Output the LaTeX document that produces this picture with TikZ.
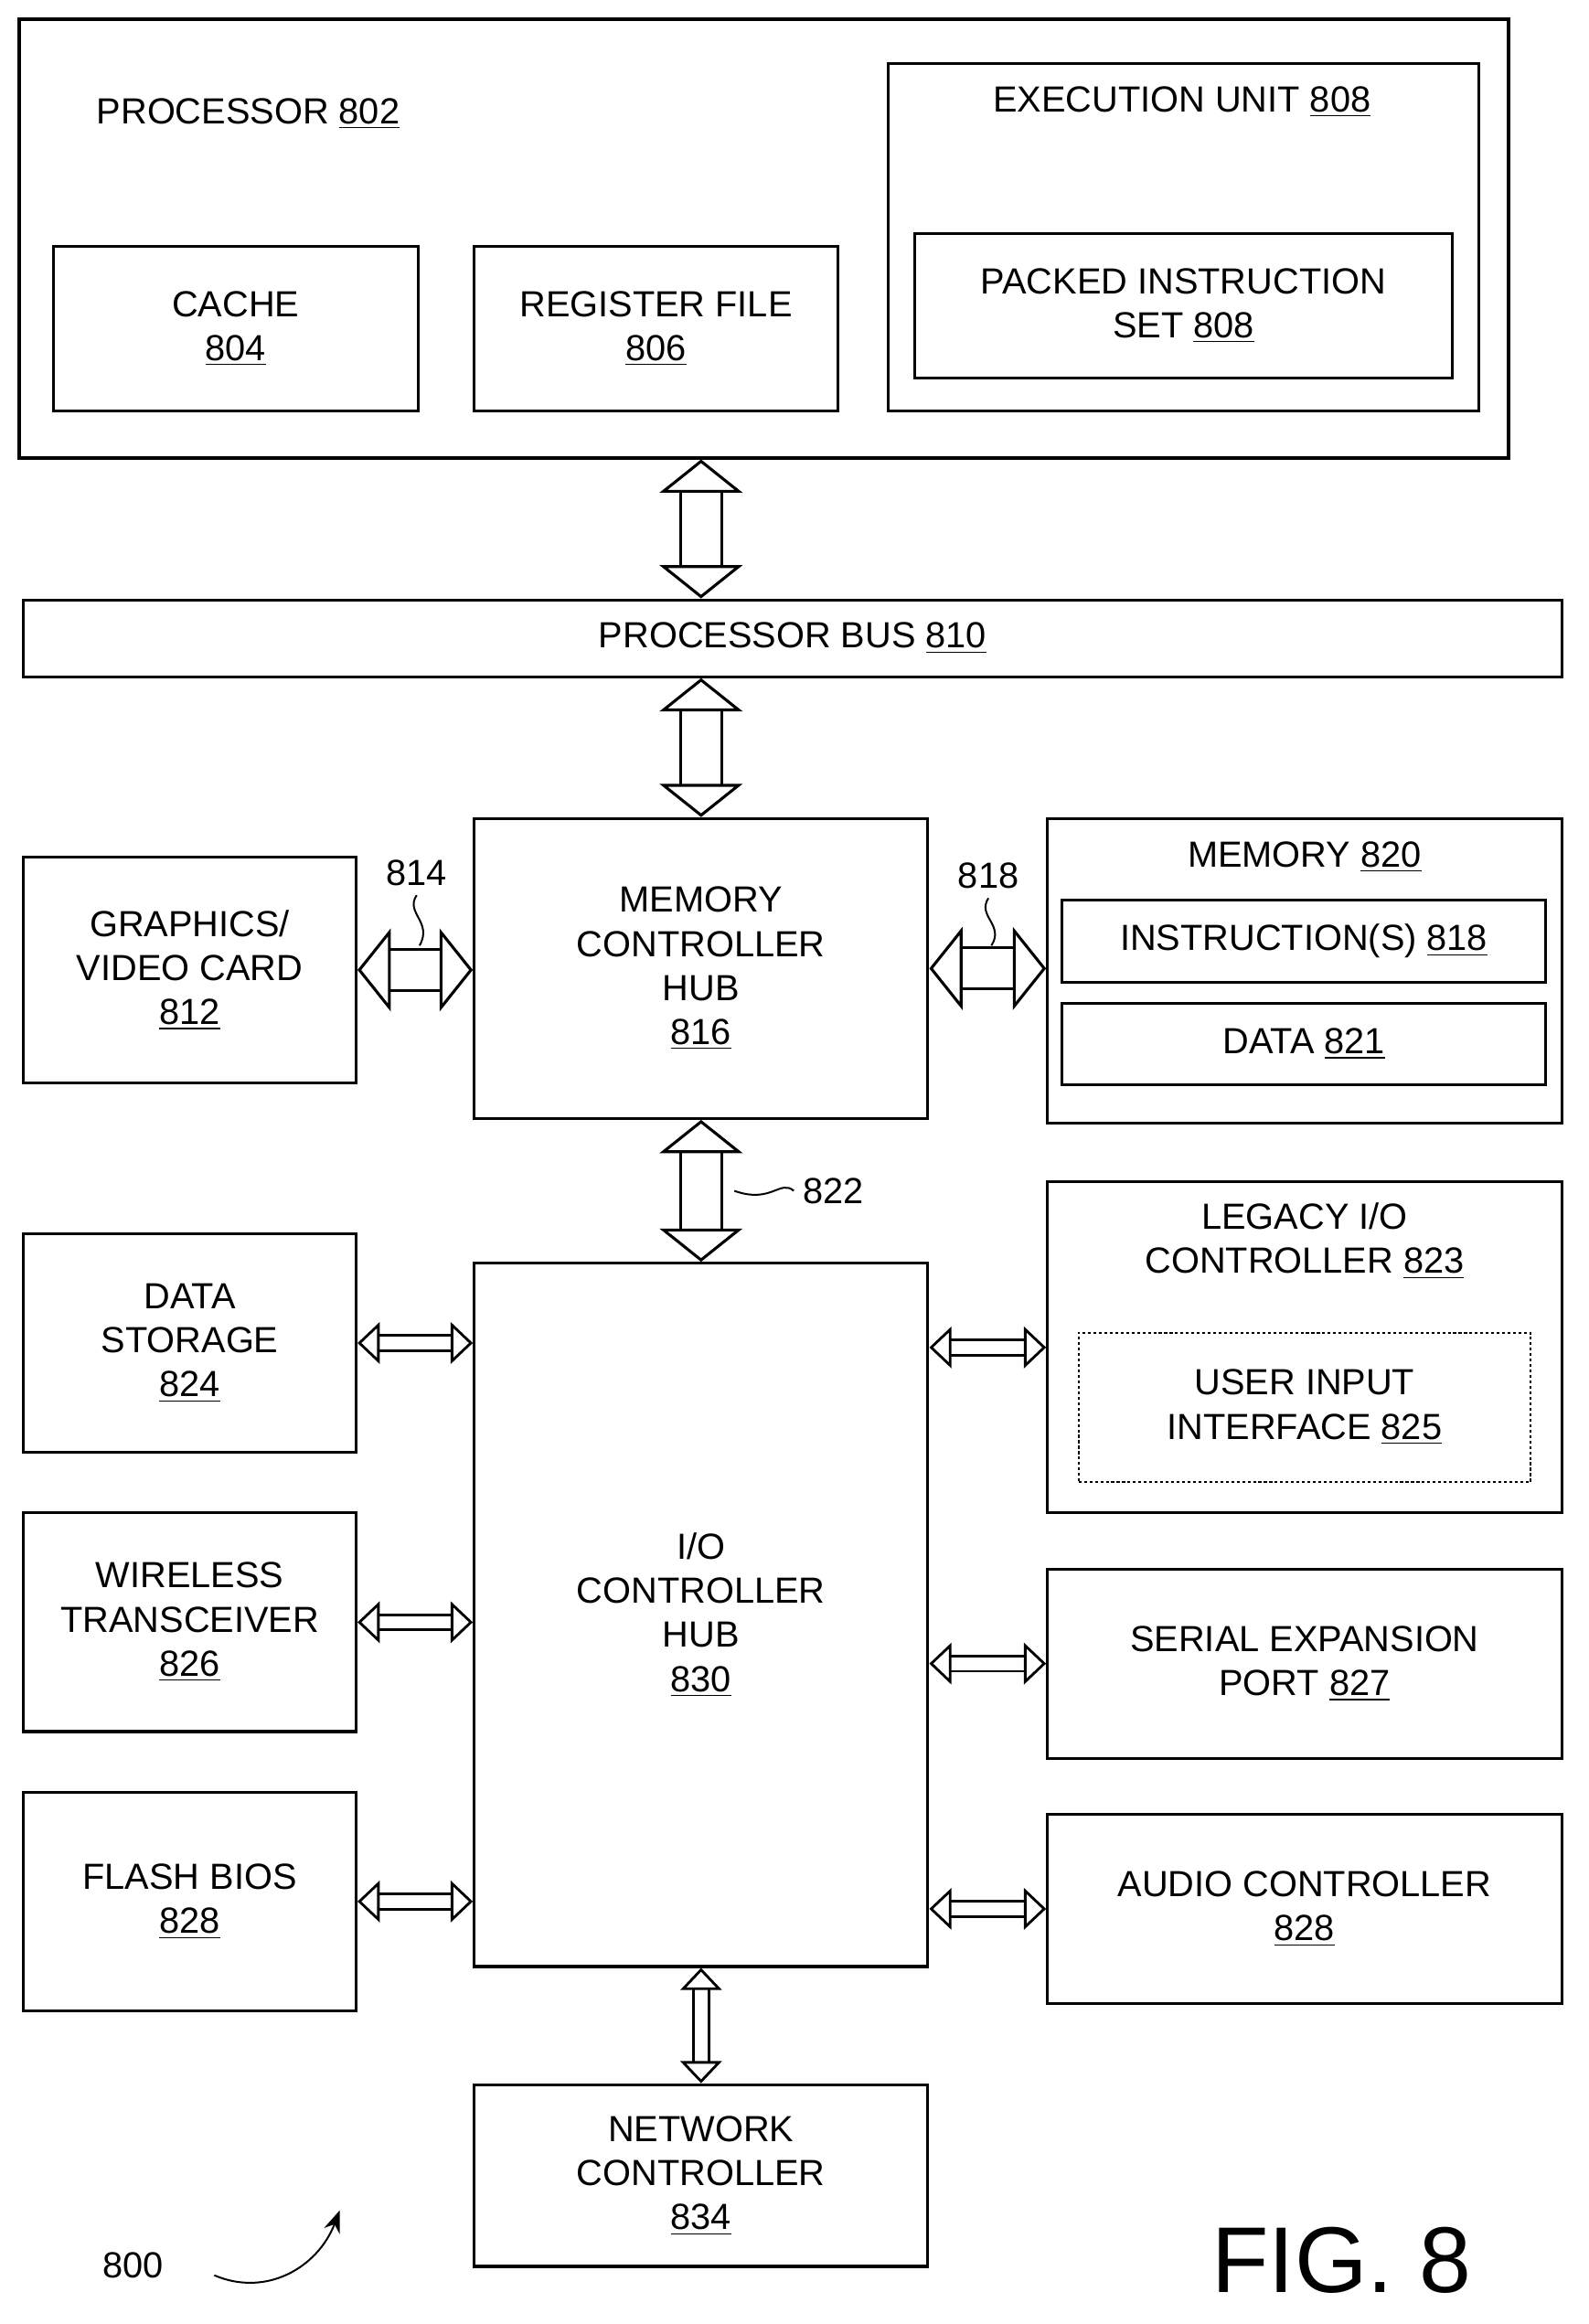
\documentclass[tikz,border=0pt]{standalone}
\usepackage{fontspec}
\setmainfont{Liberation Sans}
\usetikzlibrary{arrows.meta,positioning}
\newcommand{\un}[1]{\underline{#1}}
% box from corner (x1,y1) to (x2,y2)
\newcommand{\blk}[7][]{\node[block,#1,minimum width={(#5-#3)*0.02cm},minimum height={(#6-#4)*0.02cm}] (#2) at ({(#3+#5)/2},{(#4+#6)/2}) {#7};}
\begin{document}
\begin{tikzpicture}[x=0.02cm, y=-0.02cm,
  font=\fontsize{14}{17}\selectfont,
  block/.style={draw, line width=1.1pt, inner sep=0pt, align=center},
  bigbus/.style={double, double distance=0.52cm, line width=1.1pt,
    {Triangle[open,length=0.45cm,width=1.12cm]}-{Triangle[open,length=0.45cm,width=1.12cm]}},
  smallbus/.style={double, double distance=0.17cm, line width=1pt,
    {Triangle[open,length=0.3cm,width=0.56cm]}-{Triangle[open,length=0.3cm,width=0.56cm]}},
  lead/.style={line width=0.7pt}]
  \useasboundingbox (0,0) rectangle (1075,1573);

  % Processor
  \blk{proc}{13}{13}{1021}{310}{}
  \node at (168,77) {PROCESSOR \un{802}};
  \blk{cache}{36}{167}{283}{278}{CACHE\\\un{804}}
  \blk{regf}{321}{167}{567}{278}{REGISTER FILE\\\un{806}}
  \blk{exu}{601}{43}{1001}{278}{}
  \node at (800,69) {EXECUTION UNIT \un{808}};
  \blk{pis}{619}{158}{983}{256}{PACKED INSTRUCTION\\SET \un{808}}

  % Buses and hubs
  \blk{pbus}{16}{406}{1057}{458}{PROCESSOR BUS \un{810}}
  \blk{mch}{321}{554}{628}{757}{MEMORY\\CONTROLLER\\HUB\\\un{816}}
  \blk{gfx}{16}{580}{241}{733}{GRAPHICS/\\VIDEO CARD\\\un{812}}
  \blk{mem}{709}{554}{1057}{760}{}
  \node at (883,580) {MEMORY \un{820}};
  \blk{instr}{719}{609}{1046}{665}{INSTRUCTION(S) \un{818}}
  \blk{data}{719}{679}{1046}{734}{DATA \un{821}}
  \blk{ich}{321}{855}{628}{1331}{I/O\\CONTROLLER\\HUB\\\un{830}}

  % Left column
  \blk{dstor}{16}{835}{241}{983}{DATA\\STORAGE\\\un{824}}
  \blk{wless}{16}{1024}{241}{1172}{WIRELESS\\TRANSCEIVER\\\un{826}}
  \blk{flash}{16}{1213}{241}{1361}{FLASH BIOS\\\un{828}}

  % Right column
  \blk{legacy}{709}{800}{1057}{1024}{}
  \node[align=center] at (883,840) {LEGACY I/O\\CONTROLLER \un{823}};
  \blk[densely dotted, line width=0.6pt]{uii}{730}{902}{1036}{1003}{USER INPUT\\INTERFACE \un{825}}
  \blk{serial}{709}{1062}{1057}{1190}{SERIAL EXPANSION\\PORT \un{827}}
  \blk{audio}{709}{1228}{1057}{1356}{AUDIO CONTROLLER\\\un{828}}
  \blk{netc}{321}{1411}{628}{1534}{NETWORK\\CONTROLLER\\\un{834}}

  % Wide connectors
  \draw[bigbus] (proc.south -| mch) -- (pbus.north -| mch);
  \draw[bigbus] (pbus.south -| mch) -- (mch.north);
  \draw[bigbus] (mch.south) -- (ich.north);
  \draw[bigbus] (gfx.east) -- (gfx.east -| mch.west);
  \draw[bigbus] (mch.east) -- (mch.east -| mem.west);

  % Narrow connectors
  \draw[smallbus] (dstor.east) -- (dstor.east -| ich.west);
  \draw[smallbus] (wless.east) -- (wless.east -| ich.west);
  \draw[smallbus] (flash.east) -- (flash.east -| ich.west);
  \draw[smallbus] (legacy.east -| ich.east) -- (legacy.west);
  \draw[smallbus] (serial.west -| ich.east) -- (serial.west);
  \draw[smallbus] (audio.west -| ich.east) -- (audio.west);
  \draw[smallbus] (ich.south) -- (netc.north);

  % Reference labels
  \node (l814) at (282,591) {814};
  \draw[lead] (l814.south) .. controls (274,618) and (293,624) .. (284,640);
  \node (l818) at (669,593) {818};
  \draw[lead] (l818.south) .. controls (661,620) and (680,626) .. (671,640);
  \node (l822) at (564,806) {822};
  \draw[lead] (l822.west) .. controls (528,798) and (522,815) .. (497,806);

  \node (l800) at (90,1533) {800};
  \coordinate (a800) at (230,1496);
  \draw[lead, -{Stealth[length=0.3cm]}] (145,1540) .. controls (180,1555) and (215,1535) .. (a800);
  \node[font=\fontsize{36}{40}\selectfont] (fig) at (908,1530) {FIG. 8};
\end{tikzpicture}
\end{document}
